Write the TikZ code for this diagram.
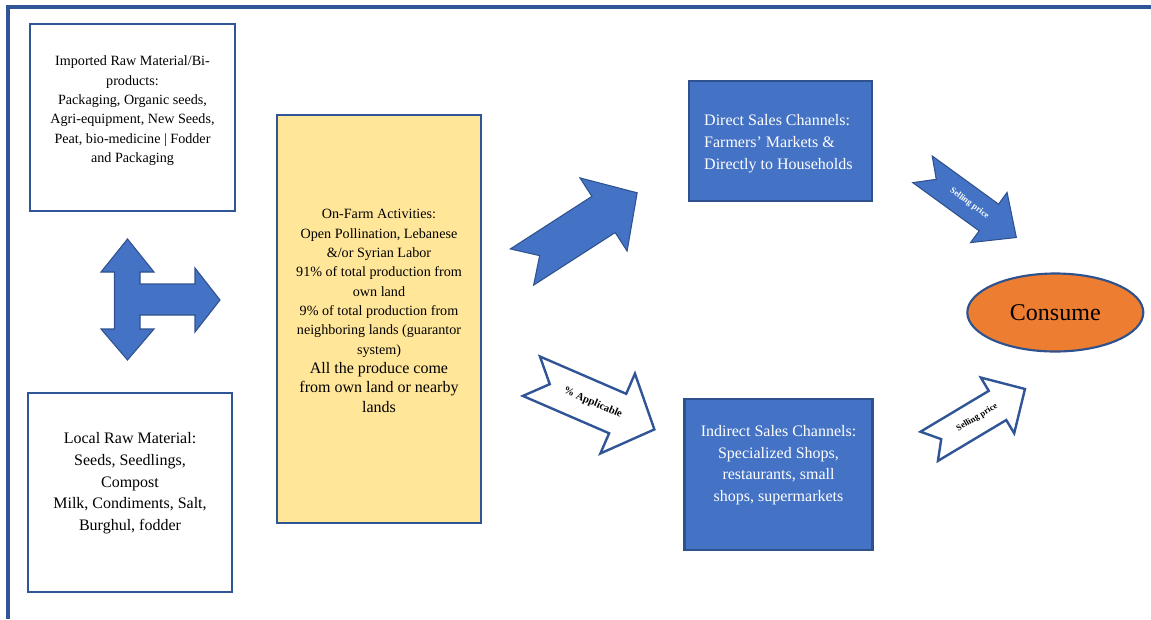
\documentclass[tikz,border=0pt]{standalone}
\usepackage{fontspec}
\setmainfont{Liberation Serif}
\usetikzlibrary{shapes,arrows.meta,calc,positioning}
\definecolor{ablue}{HTML}{4472C4}
\definecolor{edgeblue}{HTML}{2F528F}
\definecolor{lineblue}{HTML}{2F5597}
\definecolor{farmyellow}{HTML}{FFE699}
\definecolor{consorange}{HTML}{ED7D31}
\newcommand{\bigline}{\fontsize{12}{16.3}\selectfont}
\tikzset{
    x=0.75pt, y=-0.75pt,
    whitebox/.style={rectangle, draw=lineblue, line width=2pt, fill=white, inner sep=0},
    bluebox/.style={rectangle, draw=edgeblue, line width=1.6pt, fill=ablue, inner sep=0},
    farmbox/.style={rectangle, draw=lineblue, line width=2pt, fill=farmyellow, inner sep=0},
    txt/.style={align=center, inner sep=0, font=\fontsize{12}{16.4}\selectfont},
    smalltxt/.style={align=center, inner sep=0, font=\fontsize{10.6}{14.5}\selectfont},
    bluearrow/.style={fill=ablue, draw=edgeblue, line width=0.8pt},
    whitearrow/.style={fill=white, draw=lineblue, line width=1.8pt},
    arrowtxt/.style={inner sep=0, font=\bfseries\fontsize{6.5}{8}\selectfont},
    pics/notcharrow/.style args={#1/#2/#3/#4/#5}{code={
        \path[pic actions] (0,-#2) -- (#5,0) -- (0,#2) -- ({#1-#4},#2) -- ({#1-#4},#3)
            -- (#1,0) -- ({#1-#4},-#3) -- ({#1-#4},-#2) -- cycle;
        \coordinate (-mid) at ({#1/2},0);
    }}
}

\begin{document}
\begin{tikzpicture}
    \useasboundingbox (0,0) rectangle (1151,619);
    \draw[lineblue, line width=2.3pt] (8,619) -- (8,7) -- (1151,7);

    \node[whitebox, minimum width=205*.75pt, minimum height=187*.75pt] (imp) at (132.5,117.5) {};
    \node[whitebox, minimum width=204*.75pt, minimum height=199*.75pt] (loc) at (130,492.5) {};
    \node[farmbox, minimum width=204*.75pt, minimum height=408*.75pt] (farm) at (379,319) {};
    \node[bluebox, minimum width=183*.75pt, minimum height=120*.75pt] (direct) at (780.5,140.7) {};
    \node[bluebox, minimum width=188*.75pt, minimum height=151*.75pt] (indirect) at (778.5,474.5) {};
    \node[ellipse, draw=edgeblue, line width=1.6pt, fill=consorange, minimum width=176*.75pt,
        minimum height=78*.75pt, font=\fontsize{18}{22}\selectfont] (cons) at (1055.3,312.5) {Consume};

    \node[smalltxt] (imptxt) at ([yshift=5pt]imp.center) {Imported Raw Material/Bi-\\ products:\\
        Packaging, Organic seeds,\\ Agri-equipment, New Seeds,\\ Peat, bio-medicine | Fodder\\ and Packaging};
    \node[txt] (loctxt) at ([yshift=7pt]loc.center) {Local Raw Material:\\ Seeds, Seedlings,\\ Compost\\
        Milk, Condiments, Salt,\\ Burghul, fodder};
    \node[smalltxt] (farmtxt) at ([yshift=6pt]farm.center) {On-Farm Activities:\\ Open Pollination, Lebanese\\
        \&/or Syrian Labor\\ 91\% of total production from\\ own land\\ 9\% of total production from\\
        neighboring lands (guarantor\\ system)\\ \bigline All the produce come\\
        \bigline from own land or nearby\\ \bigline lands};
    \node[txt, align=left, text=white, anchor=west] (directtxt) at ([xshift=12pt,yshift=-2.5pt]direct.west)
        {Direct Sales Channels:\\ Farmers’ Markets \&\\ Directly to Households};
    \node[txt, text=white] (indirecttxt) at ([yshift=7pt]indirect.center) {Indirect Sales Channels:\\
        Specialized Shops,\\ restaurants, small\\ shops, supermarkets};

    \draw[bluearrow] (127.5,239) -- (154,272) -- (140,272) -- (140,284) -- (195,284) -- (195,268)
        -- (220,300) -- (195,332) -- (195,315) -- (140,315) -- (140,329) -- (154,329) -- (127.5,360)
        -- (101,329) -- (114.5,329) -- (114.5,272) -- (101,272) -- cycle;

    \pic[bluearrow, rotate=32.8] (bigup) at (522,267) {notcharrow={137/21.5/43.5/40/21}};
    \pic[whitearrow, rotate=-23.4] (applic) at (531.4,376.2) {notcharrow={134/21.5/43.5/40/20}};
    \pic[bluearrow, rotate=-36] (sellup) at (922.5,169.3) {notcharrow={116/16.5/31/34/17}};
    \pic[whitearrow, rotate=30.9] (selldown) at (929.2,446.3) {notcharrow={111.6/17/32.5/32/14}};

    \node[arrowtxt, font=\bfseries\fontsize{8}{9}\selectfont, rotate=-23.4] (applictxt) at (applic-mid) {\% Applicable};
    \node[arrowtxt, text=white, rotate=-36] (selluptxt) at (sellup-mid) {Selling price};
    \node[arrowtxt, rotate=30.9] (selldowntxt) at (selldown-mid) {Selling price};
\end{tikzpicture}
\end{document}
